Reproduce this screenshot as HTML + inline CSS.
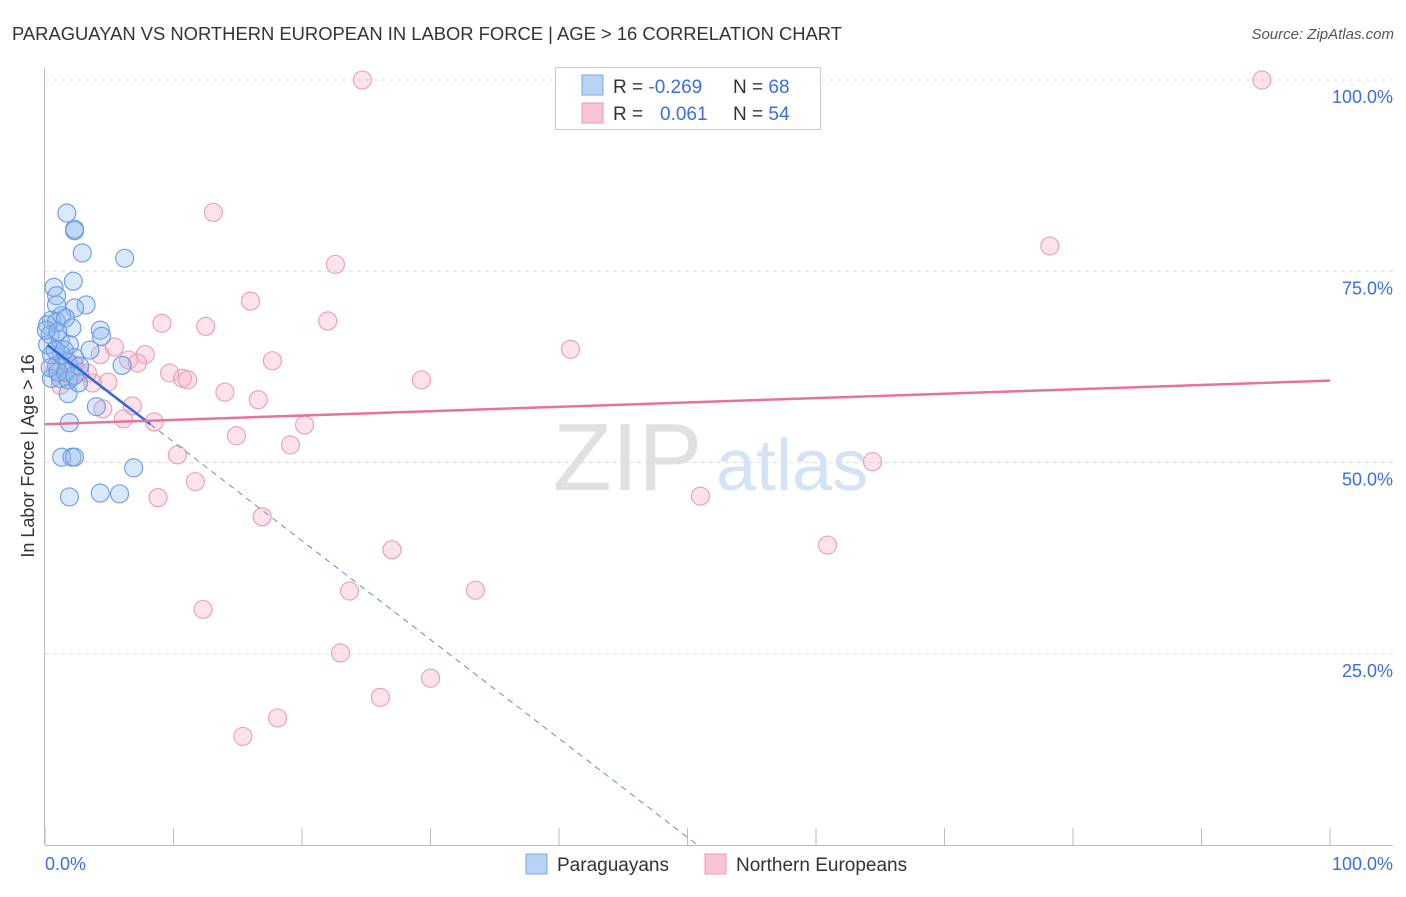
<!DOCTYPE html>
<html><head><meta charset="utf-8"><style>
body{margin:0;background:#fff;font-family:"Liberation Sans",sans-serif}
svg text{font-family:"Liberation Sans",sans-serif}
</style></head><body>
<svg id="chart" width="1406" height="892" viewBox="0 0 1406 892">
<text x="12" y="40" font-size="18.4" fill="#333">PARAGUAYAN VS NORTHERN EUROPEAN IN LABOR FORCE | AGE &gt; 16 CORRELATION CHART</text>
<text x="1394" y="39" font-size="15" fill="#555" font-style="italic" text-anchor="end">Source: ZipAtlas.com</text>
<g>
<text x="553" y="490" font-size="96" font-family="Liberation Serif,serif" fill="#e0e0e0">ZIP</text>
<text x="716" y="490" font-size="72" fill="#d3e2f4">atlas</text>
</g>
<g id="grid"></g>
<g id="axes"></g>
<g id="marks"></g>
<text transform="translate(34,456) rotate(-90)" font-size="18" fill="#333" text-anchor="middle">In Labor Force | Age &gt; 16</text>
<text x="45" y="870" font-size="18" fill="#3a6fd8">0.0%</text>
<text x="1393" y="870" font-size="18" fill="#3a6fd8" text-anchor="end">100.0%</text>
<g>
<rect x="555.5" y="67.5" width="265" height="62" fill="#fff" stroke="#ccc"/>
<rect x="582" y="75" width="21" height="20" fill="#b9d3f5" stroke="#7aa6e6"/>
<rect x="582" y="103" width="21" height="20" fill="#f9c5d4" stroke="#ec98b3"/>
<text x="613" y="93" font-size="19" fill="#333">R = <tspan fill="#3a6fd8">-0.269</tspan><tspan x="733">N = </tspan><tspan fill="#3a6fd8">68</tspan></text>
<text x="613" y="120" font-size="19" fill="#333">R = <tspan x="660" fill="#3a6fd8">0.061</tspan><tspan x="733">N = </tspan><tspan fill="#3a6fd8">54</tspan></text>
</g>
<g>
<rect x="526" y="854" width="21" height="20" fill="#b9d3f5" stroke="#7aa6e6"/>
<text x="557" y="871" font-size="19" fill="#333">Paraguayans</text>
<rect x="705" y="854" width="21" height="20" fill="#f9c5d4" stroke="#ec98b3"/>
<text x="736" y="871" font-size="19" fill="#333">Northern Europeans</text>
</g>
</svg>
<script>
const yTicks=[25,50,75,100];
const yTickLabels=["25.0%","50.0%","75.0%","100.0%"];
const xTicks=[0,10,20,30,40,50,60,70,80,90,100];
const blueX=[1.7,2.3,2.3,2.9,6.2,2.2,0.7,0.9,3.2,0.9,2.3,1.3,0.5,0.2,0.9,1.6,2.1,4.3,4.4,0.4,1.2,1.9,3.5,0.5,1.3,2.3,1.8,0.9,6.0,2.7,0.5,1.2,1.8,2.6,1.8,4.0,1.9,1.3,2.1,2.3,6.9,1.9,4.3,5.8,0.2,0.8,0.4,1.0,0.1,1.5,1.0,1.6,2.3];
const blueY=[82.6,80.3,80.5,77.4,76.7,73.7,72.9,71.8,70.6,70.6,70.2,69.2,68.6,68.0,68.4,68.9,67.6,67.3,66.5,66.7,66.0,65.4,64.7,64.1,64.1,63.7,63.1,62.7,62.7,62.6,61.0,61.0,60.8,60.4,59.0,57.3,55.2,50.7,50.7,50.7,49.3,45.5,46.0,45.9,65.4,64.7,62.4,61.8,67.3,64.7,67.1,61.8,61.4];
const pinkX=[24.7,94.7,13.1,78.2,22.6,16.0,22.0,9.1,12.5,40.9,17.7,7.8,5.4,4.3,6.5,7.2,9.7,10.7,11.1,29.3,14.0,4.9,3.7,3.3,16.6,20.2,6.8,4.5,6.1,8.5,14.9,19.1,10.3,64.4,11.7,8.8,51.0,16.9,27.0,60.9,23.7,33.5,12.3,23.0,30.0,26.1,18.1,15.4,2.3,2.7,1.6,1.9,1.2,0.8];
const pinkY=[100,100,82.7,78.3,75.9,71.1,68.5,68.2,67.8,64.8,63.3,64.1,65.1,64.1,63.4,63.0,61.7,61.0,60.8,60.8,59.2,60.5,60.4,61.7,58.2,54.9,57.4,57.0,55.7,55.3,53.5,52.3,51.0,50.1,47.5,45.4,45.6,42.9,38.6,39.2,33.2,33.3,30.8,25.1,21.8,19.3,16.6,14.2,62.7,61.8,63.4,60.8,60.1,62.1];
const blueTrend=[65.6,-1.292,8.2];
const pinkTrend=[55.0,0.057];
const NS="http://www.w3.org/2000/svg";
const xs=v=>45+v*12.85, ys=v=>845-v*7.65;
function mk(tag,attrs,parent){const e=document.createElementNS(NS,tag);for(const k in attrs)e.setAttribute(k,attrs[k]);document.getElementById(parent).appendChild(e);return e;}
yTicks.forEach((t,i)=>{
 const g=mk('line',{x1:45,x2:1393,y1:ys(t),y2:ys(t),stroke:'#ddd','stroke-dasharray':'4,4'},'grid');
 
 
 const l=mk('text',{x:1393,y:ys(t)+23,'font-size':18,fill:'#3a6fd8','text-anchor':'end'},'grid');
 l.textContent=yTickLabels[i];
 
 
});
const ax=mk('line',{x1:45,x2:1393,y1:845.5,y2:845.5,stroke:'#bbb'},'axes');


const ay=mk('line',{x1:44.5,x2:44.5,y1:68,y2:845,stroke:'#bbb'},'axes');


xTicks.forEach(t=>{
 const k=mk('line',{x1:xs(t),x2:xs(t),y1:828,y2:845,stroke:'#bbb'},'axes');
 
 
});
pinkX.forEach((x,i)=>{
 const c=mk('circle',{cx:xs(x),cy:ys(pinkY[i]),r:9,fill:'rgba(246,170,195,0.33)',stroke:'#ec9ab5','stroke-width':1.1},'marks');
 
 
});
blueX.forEach((x,i)=>{
 const c=mk('circle',{cx:xs(x),cy:ys(blueY[i]),r:9,fill:'rgba(140,185,240,0.33)',stroke:'#6a9ae0','stroke-width':1.1},'marks');
 
 
});
const bx0=0.2,bx1=blueTrend[2],bxEnd=-blueTrend[0]/blueTrend[1];
const bd=mk('line',{x1:xs(bx1),y1:ys(blueTrend[0]+blueTrend[1]*bx1),x2:xs(bxEnd),y2:ys(0),stroke:'#5b8fdc','stroke-width':1,'stroke-dasharray':'6,5'},'marks');


const bs=mk('line',{x1:xs(bx0),y1:ys(blueTrend[0]+blueTrend[1]*bx0),x2:xs(bx1),y2:ys(blueTrend[0]+blueTrend[1]*bx1),stroke:'#2f6ad6','stroke-width':2.5},'marks');


const ps=mk('line',{x1:xs(0),y1:ys(pinkTrend[0]),x2:xs(100),y2:ys(pinkTrend[0]+pinkTrend[1]*100),stroke:'#e8729a','stroke-width':2.5},'marks');


</script>
</body></html>
